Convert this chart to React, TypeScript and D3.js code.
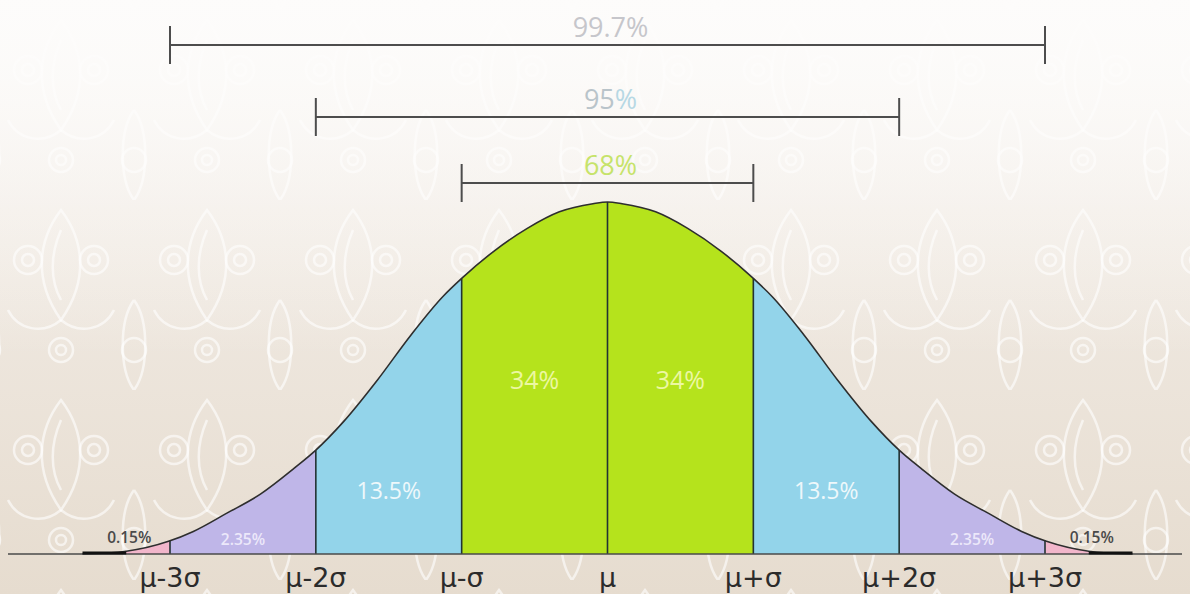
import React from 'react';
import * as d3 from 'd3';

// curve (left half, mirrored): position in sigmas, relative height
const curveSigma = [-3.6, -3.3, -3.01, -2.84, -2.61, -2.38, -2.15, -2, -1.81, -1.58, -1.35, -1.13, -1, -0.78, -0.55, -0.33, -0.1, 0];
const curveDensity = [0, 0.008, 0.036, 0.064, 0.116, 0.17, 0.243, 0.295, 0.376, 0.493, 0.621, 0.731, 0.783, 0.86, 0.925, 0.972, 0.995, 1];

const tickSigma = [-3, -2, -1, 0, 1, 2, 3];
const tickLabels = ['μ-3σ', 'μ-2σ', 'μ-σ', 'μ', 'μ+σ', 'μ+2σ', 'μ+3σ'];

const regionStart = [-3.6, -3, -2, -1, 0, 1, 2, 3];
const regionEnd = [-3, -2, -1, 0, 1, 2, 3, 3.6];
const regionLabels = ['0.15%', '2.35%', '13.5%', '34%', '34%', '13.5%', '2.35%', '0.15%'];
const regionKind = ['tail', 'outer', 'mid', 'inner', 'inner', 'mid', 'outer', 'tail'];

const bracketSigma = [3, 2, 1];
const bracketLabels = ['99.7%', '95%', '68%'];

const W = 1190;
const H = 594;
const BASE = 554;

const fills: Record<string, string> = {
  tail: '#f2b6cb',
  outer: '#bfb6e8',
  mid: '#93d4ea',
  inner: '#b5e31c',
};

const labelStyle: Record<string, { size: number; fill: string; level: number; weight: number }> = {
  tail: { size: 15.5, fill: '#4a4a4a', level: 0.03, weight: 600 },
  outer: { size: 15.5, fill: '#ece8fa', level: 0.026, weight: 600 },
  mid: { size: 23, fill: '#eef8fb', level: 0.155, weight: 400 },
  inner: { size: 25, fill: '#ecf7a2', level: 0.47, weight: 400 },
};

const bracketColor = ['#c6c6cb', '#b9c4ca', '#c6e36a'];

// interpolate the read-off curve at a given sigma (integer sigmas fall on read points)
function heightAt(s: number) {
  const a = -Math.abs(s);
  for (let i = 0; i < curveSigma.length - 1; i++) {
    if (a >= curveSigma[i] && a <= curveSigma[i + 1]) {
      const t = (a - curveSigma[i]) / (curveSigma[i + 1] - curveSigma[i]);
      return curveDensity[i] + t * (curveDensity[i + 1] - curveDensity[i]);
    }
  }
  return 0;
}

export default function App() {
  const x = d3.scaleLinear().domain([-3, 3]).range([170, 1045]);
  const y = d3.scaleLinear().domain([0, 1]).range([BASE, 202]);

  const pts: [number, number][] = curveSigma.map((s, i) => [s, curveDensity[i]]);
  const full = pts.concat(pts.slice(0, -1).reverse().map(([s, d]) => [-s, d] as [number, number]));

  const line = d3.line<[number, number]>()
    .x(d => x(d[0]))
    .y(d => y(d[1]))
    .curve(d3.curveMonotoneX);
  const area = d3.area<[number, number]>()
    .x(d => x(d[0]))
    .y0(BASE)
    .y1(d => y(d[1]))
    .curve(d3.curveMonotoneX);

  const font = '"Open Sans", "Noto Sans", sans-serif';
  const tile = 146;

  return (
    <svg width={W} height={H} style={{ position: 'fixed', left: 0, top: 0, display: 'block' }}>
      <defs>
        <linearGradient id="bg" x1="0" y1="0" x2="0" y2="1">
          <stop offset="0" stopColor="#fbfaf8" />
          <stop offset="0.35" stopColor="#f1ebe4" />
          <stop offset="1" stopColor="#e6dccf" />
        </linearGradient>
        <linearGradient id="fade" x1="0" y1="0" x2="0" y2="1">
          <stop offset="0" stopColor="#fdfcfb" stopOpacity="0.95" />
          <stop offset="0.3" stopColor="#fdfcfb" stopOpacity="0.5" />
          <stop offset="0.6" stopColor="#fdfcfb" stopOpacity="0" />
        </linearGradient>
        <pattern id="damask" width={tile} height={190} patternUnits="userSpaceOnUse" x={-12} y={10}>
          <g fill="none" stroke="#ffffff" strokeOpacity="0.6" strokeWidth="2.5">
            <circle cx={40} cy={60} r={14} />
            <circle cx={40} cy={60} r={6} />
            <circle cx={106} cy={60} r={14} />
            <circle cx={106} cy={60} r={6} />
            <circle cx={73} cy={150} r={12} />
            <circle cx={73} cy={150} r={5} />
            <circle cx={0} cy={150} r={12} />
            <circle cx={146} cy={150} r={12} />
            <path d="M73 10 C 50 40, 45 80, 73 120 C 101 80, 96 40, 73 10 Z" />
            <path d="M73 30 C 62 55, 62 80, 73 100" />
            <path d="M73 120 C 55 135, 30 130, 20 110" />
            <path d="M73 120 C 91 135, 116 130, 126 110" />
            <path d="M0 100 C 15 120, 15 170, 0 190" />
            <path d="M146 100 C 131 120, 131 170, 146 190" />
          </g>
        </pattern>
        <clipPath id="under">
          <path d={area(full) || ''} />
        </clipPath>
      </defs>

      <rect width={W} height={H} fill="url(#bg)" />
      <rect width={W} height={H} fill="url(#damask)" />
      <rect width={W} height={H} fill="url(#fade)" />

      {/* brackets */}
      {bracketSigma.map((k, i) => {
        const yy = [45, 117, 183][i];
        return (
          <g key={k}>
            <line x1={x(-k)} x2={x(k)} y1={yy} y2={yy} stroke="#4d4d4d" strokeWidth={2} />
            <line x1={x(-k)} x2={x(-k)} y1={yy - 19} y2={yy + 19} stroke="#4d4d4d" strokeWidth={2} />
            <line x1={x(k)} x2={x(k)} y1={yy - 19} y2={yy + 19} stroke="#4d4d4d" strokeWidth={2} />
            <text x={x(0) + 3} y={yy - 8} textAnchor="middle" fontFamily={font} fontSize={27} fill={bracketColor[i]}>
              {i === 1 ? (
                <>
                  <tspan>95</tspan>
                  <tspan fill="#b7d8e4">%</tspan>
                </>
              ) : bracketLabels[i]}
            </text>
          </g>
        );
      })}

      {/* filled regions */}
      <g clipPath="url(#under)">
        {regionStart.map((s, i) => (
          <rect
            key={i}
            x={x(s)}
            width={x(regionEnd[i]) - x(s)}
            y={0}
            height={BASE}
            fill={fills[regionKind[i]]}
          />
        ))}
      </g>

      {/* dividers */}
      {tickSigma.map(s => (
        <line key={s} x1={x(s)} x2={x(s)} y1={BASE} y2={y(heightAt(s))} stroke="#233333" strokeWidth={1.6} />
      ))}

      <path d={line(full) || ''} fill="none" stroke="#2e2e2e" strokeWidth={1.6} />

      {/* baseline */}
      <line x1={8} x2={1182} y1={BASE} y2={BASE} stroke="#4a4a4a" strokeWidth={1.6} />
      <line x1={x(-3.6)} x2={x(-3.3)} y1={BASE - 1} y2={BASE - 1} stroke="#111" strokeWidth={3} />
      <line x1={x(3.3)} x2={x(3.6)} y1={BASE - 1} y2={BASE - 1} stroke="#111" strokeWidth={3} />

      {/* region labels */}
      {regionLabels.map((t, i) => {
        const st = labelStyle[regionKind[i]];
        const c = (regionStart[i] + regionEnd[i]) / 2;
        const cx = regionKind[i] === 'tail' ? x(c) + 3 : x(c);
        return (
          <text
            key={i}
            x={cx}
            y={regionKind[i] === 'tail' ? BASE - 11 : y(st.level)}
            textAnchor="middle"
            fontFamily={font}
            fontSize={st.size}
            fontWeight={st.weight}
            fill={st.fill}
          >
            {t}
          </text>
        );
      })}

      {/* tick labels */}
      {tickSigma.map((s, i) => (
        <text
          key={s}
          x={x(s)}
          y={587}
          textAnchor="middle"
          fontFamily='"DejaVu Sans", sans-serif'
          fontSize={27}
          fill="#2b2b2b"
        >
          {tickLabels[i]}
        </text>
      ))}
    </svg>
  );
}
